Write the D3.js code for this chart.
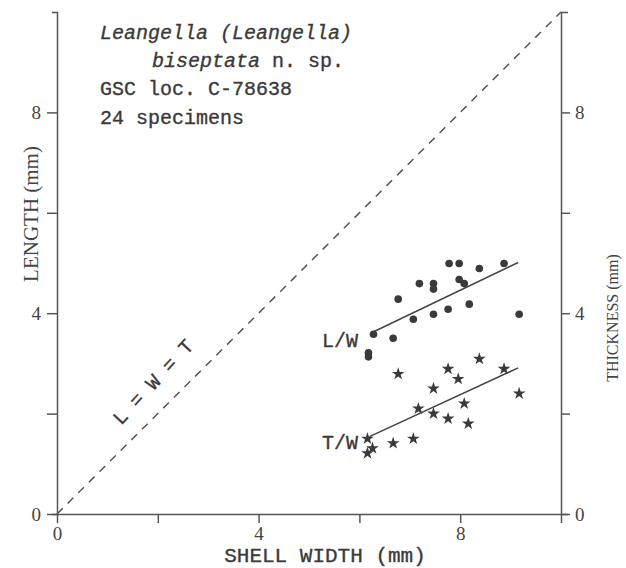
<!DOCTYPE html>
<html>
<head>
<meta charset="utf-8">
<script src="https://cdn.jsdelivr.net/npm/d3@7"></script>
<style>
  body { margin: 0; background: #fff; }
  svg { display: block; }
  .axis path, .axis line { stroke: #555; stroke-width: 1.5; }
  .axis text { font-family: "Liberation Serif", serif; font-size: 19px; fill: #444; }
  .mono { font-family: "Liberation Mono", monospace; fill: #3a3a3a; stroke: #3a3a3a; stroke-width: 0.35; }
</style>
</head>
<body>
<div id="chart"></div>
<script>
var width = 626;
var height = 568;

// shell width / length pairs (L/W, circles)
var lwWidth  = [7.78, 7.98, 8.38, 8.87, 7.19, 7.47, 7.47, 7.98, 8.08, 6.77, 8.18, 7.76, 7.47, 7.07, 9.17, 6.28, 6.67, 6.18, 6.18];
var lwLength = [4.99, 4.99, 4.89, 4.99, 4.59, 4.59, 4.48, 4.67, 4.59, 4.28, 4.18, 4.08, 3.98, 3.88, 3.98, 3.58, 3.50, 3.21, 3.13];

// shell width / thickness pairs (T/W, stars)
var twWidth     = [8.38, 7.76, 8.87, 6.77, 7.96, 7.47, 9.17, 8.08, 7.17, 7.47, 7.76, 8.16, 6.16, 7.07, 6.67, 6.26, 6.16];
var twThickness = [3.09, 2.89, 2.89, 2.79, 2.69, 2.50, 2.40, 2.20, 2.10, 2.00, 1.90, 1.80, 1.50, 1.50, 1.41, 1.31, 1.21];

// fitted lines, [width, value] at each end
var lwLine = [[6.22, 3.60], [9.15, 5.01]];
var twLine = [[6.20, 1.54], [9.15, 2.91]];
var equalLine = [[0, 0], [10, 10]];

var tickValues = [0, 2, 4, 6, 8];
var labelledTicks = [0, 4, 8];

var svg = d3.select('#chart')
            .append('svg')
            .attr('width', width)
            .attr('height', height);

var x = d3.scaleLinear().domain([0, 10]).range([57, 561]);
var y = d3.scaleLinear().domain([0, 10]).range([514, 12]);

function tickLabel(d) {
  return labelledTicks.indexOf(d) >= 0 ? d : '';
}

// axes
svg.append('g')
  .attr('class', 'axis')
  .attr('transform', 'translate(' + x(0) + ',0)')
  .call(d3.axisLeft(y).tickValues(tickValues).tickFormat(tickLabel).tickSizeInner(10).tickSizeOuter(5).tickPadding(6));

svg.append('g')
  .attr('class', 'axis')
  .attr('transform', 'translate(' + x(10) + ',0)')
  .call(d3.axisRight(y).tickValues(tickValues).tickFormat(tickLabel).tickSizeInner(9).tickSizeOuter(7).tickPadding(5));

svg.append('g')
  .attr('class', 'axis')
  .attr('transform', 'translate(0,' + y(0) + ')')
  .call(d3.axisBottom(x).tickValues(tickValues.concat([10])).tickFormat(tickLabel).tickSizeInner(9).tickSizeOuter(0).tickPadding(4));

svg.selectAll('.axis .domain').attr('fill', 'none');

// L = W = T
var line = d3.line().x(function(d) { return x(d[0]); }).y(function(d) { return y(d[1]); });

svg.append('path')
  .attr('d', line(equalLine))
  .attr('fill', 'none')
  .attr('stroke', '#555')
  .attr('stroke-width', 1.5)
  .attr('stroke-dasharray', '8,7');

// fitted lines
[lwLine, twLine].forEach(function(l) {
  svg.append('path')
    .attr('d', line(l))
    .attr('fill', 'none')
    .attr('stroke', '#444')
    .attr('stroke-width', 1.5);
});

// circles
svg.selectAll('.lw')
  .data(lwWidth)
  .enter().append('circle')
  .attr('class', 'lw')
  .attr('cx', function(d) { return x(d); })
  .attr('cy', function(d, i) { return y(lwLength[i]); })
  .attr('r', 3.8)
  .attr('fill', '#3a3a3a');

// stars
var star = d3.symbol().type(d3.symbolStar).size(50);
svg.selectAll('.tw')
  .data(twWidth)
  .enter().append('path')
  .attr('class', 'tw')
  .attr('d', star)
  .attr('transform', function(d, i) { return 'translate(' + x(d) + ',' + y(twThickness[i]) + ')'; })
  .attr('fill', '#3a3a3a');

// series labels
svg.append('text').attr('class', 'mono').attr('x', 358).attr('y', 347)
  .attr('text-anchor', 'end').style('font-size', '20px').text('L/W');
svg.append('text').attr('class', 'mono').attr('x', 358).attr('y', 449)
  .attr('text-anchor', 'end').style('font-size', '20px').text('T/W');

svg.append('text').attr('class', 'mono')
  .attr('transform', 'translate(121,426) rotate(-47)')
  .style('font-size', '20px')
  .text('L = W = T');

// axis titles
svg.append('text')
  .attr('transform', 'translate(38,214) rotate(-90)')
  .attr('text-anchor', 'middle')
  .style('font-family', '"Liberation Serif", serif')
  .style('font-size', '21px')
  .attr('fill', '#444')
  .text('LENGTH (mm)');

svg.append('text')
  .attr('transform', 'translate(618,318) rotate(-90)')
  .attr('text-anchor', 'middle')
  .style('font-family', '"Liberation Serif", serif')
  .style('font-size', '16px')
  .attr('fill', '#444')
  .text('THICKNESS (mm)');

svg.append('text').attr('class', 'mono')
  .attr('x', 325).attr('y', 562)
  .attr('text-anchor', 'middle')
  .style('font-size', '21px')
  .text('SHELL WIDTH (mm)');

// specimen notes
var notes = svg.append('g').attr('class', 'mono').style('font-size', '20px');
notes.append('text').attr('x', 100).attr('y', 39)
  .style('font-style', 'italic').text('Leangella (Leangella)');
var n2 = notes.append('text').attr('x', 152).attr('y', 67);
n2.append('tspan').style('font-style', 'italic').text('biseptata');
n2.append('tspan').text(' n. sp.');
notes.append('text').attr('x', 100).attr('y', 95).text('GSC loc. C-78638');
notes.append('text').attr('x', 100).attr('y', 124).text('24 specimens');
</script>
</body>
</html>
